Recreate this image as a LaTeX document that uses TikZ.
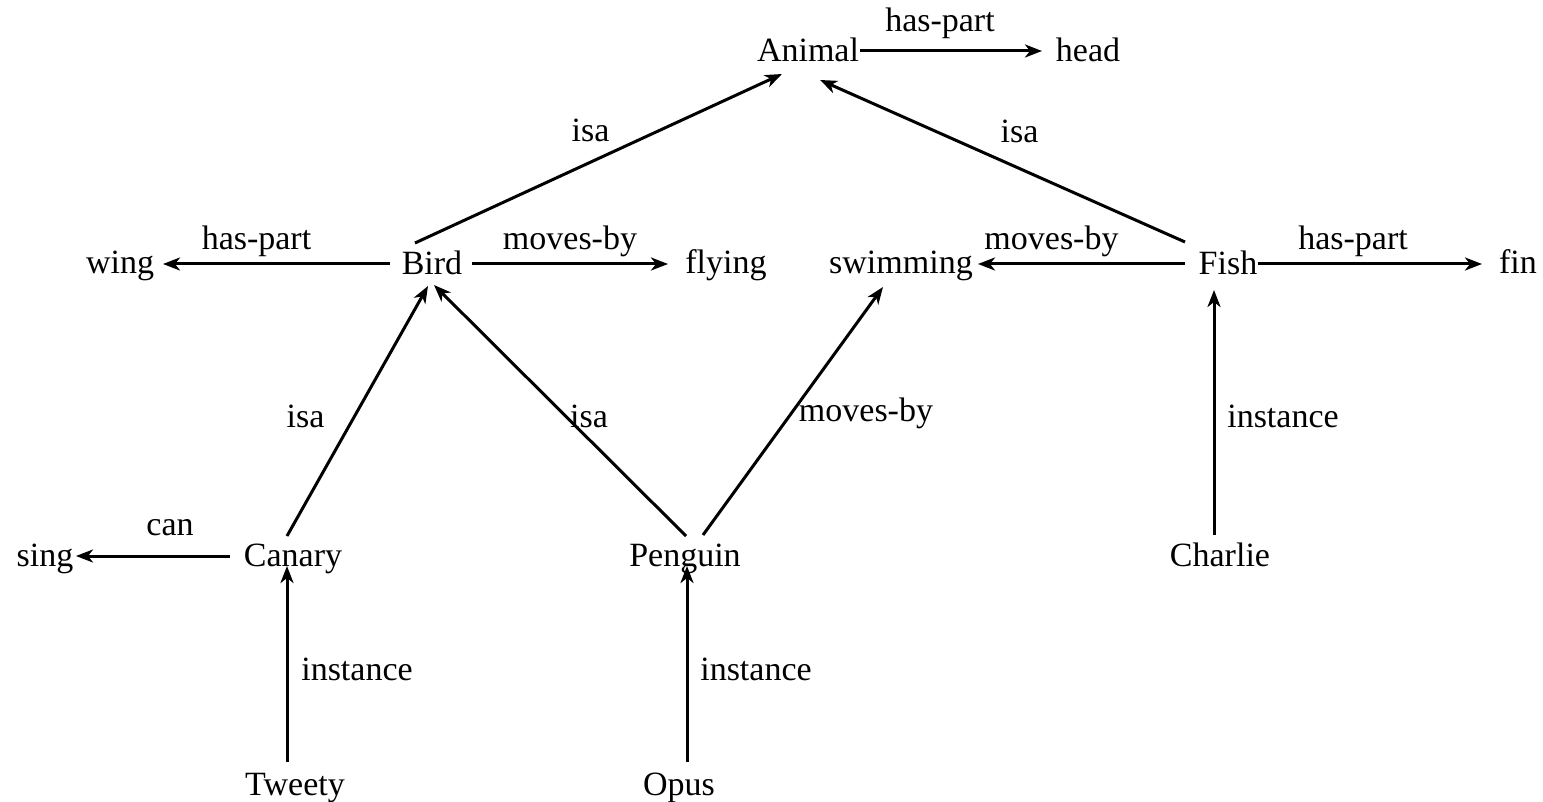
\documentclass[tikz,border=0pt]{standalone}
\usepackage{fontspec}
\setmainfont{Liberation Serif}
\newfontfamily\diagserif{Liberation Serif}
\usetikzlibrary{arrows.meta}
\begin{document}
\begin{tikzpicture}[x=1pt,y=-1pt,
  concept/.style={anchor=base,inner sep=0pt,font=\diagserif\fontsize{34}{40}\selectfont},
  lab/.style={anchor=base,inner sep=0pt,font=\diagserif\fontsize{34}{40}\selectfont},
  arr/.style={line width=3pt,-{Stealth[length=17pt,width=13pt,inset=5pt]}}]
\useasboundingbox (0,0) rectangle (1543,802);
% concepts
\node[concept] (animal) at (808,62) {Animal};
\node[concept] (head) at (1088,62) {head};
\node[concept] (bird) at (432,275) {Bird};
\node[concept] (wing) at (120,274) {wing};
\node[concept] (flying) at (726,274) {flying};
\node[concept] (swimming) at (901,274) {swimming};
\node[concept] (fish) at (1228,275) {Fish};
\node[concept] (fin) at (1518,274) {fin};
\node[concept] (canary) at (293,566) {Canary};
\node[concept] (sing) at (45,566) {sing};
\node[concept] (penguin) at (685,566) {Penguin};
\node[concept] (charlie) at (1220,566) {Charlie};
\node[concept] (tweety) at (295,795) {Tweety};
\node[concept] (opus) at (679,795) {Opus};
% relations
\draw[arr] ([shift={(52,-11)}]animal.base) -- node[lab,shift={(-11,-19)}] {has-part} ([shift={(-46,-11)}]head.base);
\draw[arr] ([shift={(-17,-32)}]bird.base) -- node[lab,shift={(-8,-17)}] {isa} ([shift={(-26,12)}]animal.base);
\draw[arr] ([shift={(-43,-33)}]fish.base) -- node[lab,shift={(17,-18)}] {isa} ([shift={(12,18)}]animal.base);
\draw[arr] ([shift={(-42,-11)}]bird.base) -- node[lab,shift={(-20,-14)}] {has-part} ([shift={(43,-10)}]wing.base);
\draw[arr] ([shift={(40,-11)}]bird.base) -- node[lab,shift={(0,-14)}] {moves-by} ([shift={(-58,-10)}]flying.base);
\draw[arr] ([shift={(-43,-11)}]fish.base) -- node[lab,shift={(-30,-14)}] {moves-by} ([shift={(77,-10)}]swimming.base);
\draw[arr] ([shift={(30,-11)}]fish.base) -- node[lab,shift={(-17,-14)}] {has-part} ([shift={(-36,-10)}]fin.base);
\draw[arr] ([shift={(-6,-30)}]canary.base) -- node[lab,shift={(-52,17)}] {isa} ([shift={(-4,11)}]bird.base);
\draw[arr] ([shift={(1,-30)}]penguin.base) -- node[lab,shift={(29,17)}] {isa} ([shift={(2,10)}]bird.base);
\draw[arr] ([shift={(18,-31)}]penguin.base) -- node[lab,shift={(73,10)}] {moves-by} ([shift={(-18,13)}]swimming.base);
\draw[arr] ([shift={(-6,-31)}]charlie.base) -- node[lab,shift={(69,15)}] {instance} ([shift={(-14,15)}]fish.base);
\draw[arr] ([shift={(-63,-10)}]canary.base) -- node[lab,shift={(17,-21)}] {can} ([shift={(31,-10)}]sing.base);
\draw[arr] ([shift={(-8,-33)}]tweety.base) -- node[lab,shift={(70,16)}] {instance} ([shift={(-6,0)}]canary.base);
\draw[arr] ([shift={(8,-33)}]opus.base) -- node[lab,shift={(69,16)}] {instance} ([shift={(2,0)}]penguin.base);
\end{tikzpicture}
\end{document}
